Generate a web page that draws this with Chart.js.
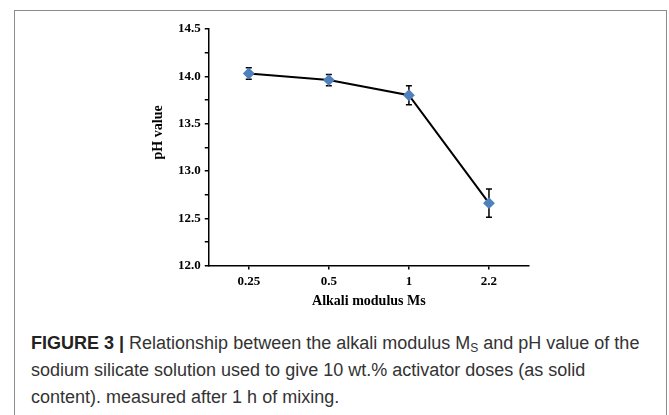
<!DOCTYPE html>
<html>
<head>
<meta charset="utf-8">
<script src="https://cdn.jsdelivr.net/npm/chart.js@4"></script>
<style>
  body { margin: 0; background: #fff; width: 669px; height: 415px; overflow: hidden; position: relative; }
  #frame { position: absolute; left: 14px; top: 10px; width: 653px; height: 420px; border: 1px solid #8c8c8c; box-sizing: border-box; }
  #wrap { position: absolute; left: 0; top: 0; width: 669px; height: 320px; }
  #caption { position: absolute; left: 31px; top: 330px; width: 636px; font-family: "Liberation Sans", Arial, sans-serif; font-size: 18px; line-height: 27px; color: #333; }
  #caption b { color: #222; }
  #caption sub { font-size: 12px; vertical-align: -3px; line-height: 0; }
</style>
</head>
<body>
<div id="frame"></div>
<div id="wrap"><canvas id="chart"></canvas></div>
<div id="caption"><b>FIGURE 3 |</b> Relationship between the alkali modulus M<sub>S</sub> and pH value of the<br>sodium silicate solution used to give 10 wt.% activator doses (as solid<br>content). measured after 1 h of mixing.</div>
<script>
const categories = ["0.25", "0.5", "1", "2.2"];
const phValues = [14.03, 13.96, 13.80, 12.66];
const phErrors = [0.06, 0.06, 0.10, 0.15];
const yTitle = 'pH value';

const serif = "'Liberation Serif', 'Times New Roman', serif";

// draw the error bars under the points
const errorBars = {
  id: 'errorBars',
  beforeDatasetsDraw(chart) {
    const ctx = chart.ctx;
    const x = chart.scales.x;
    const y = chart.scales.y;
    ctx.save();
    ctx.strokeStyle = '#000';
    ctx.lineWidth = 1.5;
    phValues.forEach(function(v, i) {
      const px = x.getPixelForValue(i);
      const top = y.getPixelForValue(v + phErrors[i]);
      const bot = y.getPixelForValue(v - phErrors[i]);
      ctx.beginPath();
      ctx.moveTo(px, top); ctx.lineTo(px, bot);
      ctx.moveTo(px - 3, top); ctx.lineTo(px + 3, top);
      ctx.moveTo(px - 3, bot); ctx.lineTo(px + 3, bot);
      ctx.stroke();
    });
    ctx.restore();
  }
};

// y title sits a bit above the middle of the axis in the original
const sideTitle = {
  id: 'sideTitle',
  afterDraw(chart) {
    const ctx = chart.ctx;
    const area = chart.chartArea;
    ctx.save();
    ctx.translate(158, area.top + (area.bottom - area.top) * 0.437);
    ctx.rotate(-Math.PI / 2);
    ctx.font = 'bold 14px ' + serif;
    ctx.fillStyle = '#000';
    ctx.textAlign = 'center';
    ctx.textBaseline = 'middle';
    ctx.fillText(yTitle, 0, 0);
    ctx.restore();
  }
};

new Chart(document.getElementById('chart'), {
  type: 'line',
  plugins: [errorBars, sideTitle],
  data: {
    labels: categories,
    datasets: [{
      data: phValues,
      borderColor: '#000',
      borderWidth: 2,
      pointStyle: 'rectRot',
      pointRadius: 4.5,
      pointBackgroundColor: '#4f81bd',
      pointBorderColor: '#4f81bd',
      tension: 0
    }]
  },
  options: {
    responsive: true,
    maintainAspectRatio: false,
    animation: false,
    layout: { padding: { left: 174, right: 140, top: 29, bottom: 10 } },
    plugins: { legend: { display: false }, tooltip: { enabled: false } },
    scales: {
      x: {
        offset: true,
        grid: { offset: false, drawOnChartArea: false, drawTicks: true, tickLength: 4, color: '#000', lineWidth: 1.5 },
        border: { display: true, color: '#000', width: 1.5 },
        ticks: { color: '#000', padding: 4, font: { family: serif, size: 13, weight: 'bold' } },
        title: { display: true, text: 'Alkali modulus Ms', color: '#000', padding: { top: 0, bottom: 0 }, font: { family: serif, size: 14, weight: 'bold' } }
      },
      y: {
        min: 12,
        max: 14.5,
        grid: { drawOnChartArea: false, drawTicks: true, tickLength: 4, color: '#000', lineWidth: 1.5 },
        border: { display: true, color: '#000', width: 1.5 },
        ticks: {
          stepSize: 0.25,
          color: '#000',
          padding: 4,
          font: { family: serif, size: 13, weight: 'bold' },
          callback: function(v) { return Math.abs(v * 2 - Math.round(v * 2)) < 1e-6 ? v.toFixed(1) : ''; }
        }
      }
    }
  }
});
</script>
</body>
</html>
